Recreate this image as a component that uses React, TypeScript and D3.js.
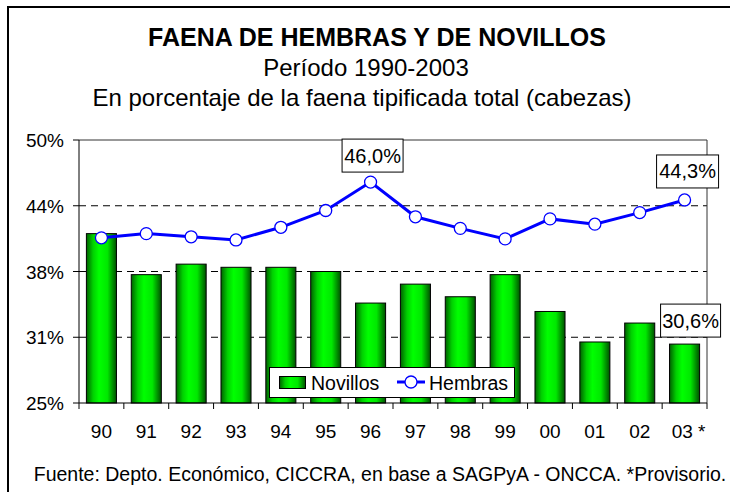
import React from "react";
import * as d3 from "d3";

const categories = ["90", "91", "92", "93", "94", "95", "96", "97", "98", "99", "00", "01", "02", "03 *"];
const novillos = [41.1, 37.2, 38.2, 37.9, 37.9, 37.5, 34.5, 36.3, 35.1, 37.2, 33.7, 30.8, 32.6, 30.6];
const hembras = [40.7, 41.1, 40.8, 40.5, 41.7, 43.3, 46.0, 42.7, 41.6, 40.6, 42.5, 42.0, 43.1, 44.3];
const yTicks = [25, 31.25, 37.5, 43.75, 50];
const yTickLabels = ["25%", "31%", "38%", "44%", "50%"];
const titleLines = ["FAENA DE HEMBRAS Y DE NOVILLOS", "Período 1990-2003", "En porcentaje de la faena tipificada total (cabezas)"];
const footer = "Fuente: Depto. Económico, CICCRA, en base a SAGPyA - ONCCA. *Provisorio.";
const seriesNames = ["Novillos", "Hembras"];

const FONT = "'Liberation Sans', Arial, sans-serif";

export default function App() {
  const left = 79, right = 707, top = 140, bottom = 403;
  const x = d3.scaleBand<string>().domain(categories).range([left, right]).paddingInner(0.33).paddingOuter(0.165);
  const y = d3.scaleLinear().domain([25, 50]).range([bottom, top]);
  const step = x.step();
  const cx = (c: string) => (x(c) as number) + x.bandwidth() / 2;
  const line = d3.line<number>().x((_, i) => cx(categories[i])).y((v) => y(v));

  const fmt = (v: number) => v.toFixed(1).replace(".", ",") + "%";
  const labelBoxes = [
    { v: hembras[6], cxv: cx(categories[6]) + 2, yb: y(hembras[6]) - 10, w: 61 },
    { v: hembras[13], cxv: cx(categories[13]) + 3, yb: y(hembras[13]) - 12, w: 62 },
    { v: novillos[13], cxv: cx(categories[13]) + 6, yb: y(novillos[13]) - 7, w: 60 },
  ];

  const xTicks = d3.range(categories.length + 1).map((i) => left + i * step);

  return (
    <svg width={730} height={492} style={{ position: "absolute", left: 0, top: 0 }} fontFamily={FONT}>
      <defs>
        <linearGradient id="barGrad" x1="0" x2="1" y1="0" y2="0">
          <stop offset="0%" stopColor="#006000" />
          <stop offset="22%" stopColor="#00d000" />
          <stop offset="42%" stopColor="#00ff00" />
          <stop offset="70%" stopColor="#00e800" />
          <stop offset="100%" stopColor="#005000" />
        </linearGradient>
      </defs>
      <rect x={0} y={0} width={730} height={492} fill="#ffffff" />
      <rect x={8} y={7} width={740} height={500} fill="none" stroke="#000" strokeWidth={2} />

      {/* titles */}
      <text x={377} y={46} textAnchor="middle" fontSize={25} fontWeight="bold">{titleLines[0]}</text>
      <text x={366} y={76} textAnchor="middle" fontSize={24}>{titleLines[1]}</text>
      <text x={362} y={106} textAnchor="middle" fontSize={24}>{titleLines[2]}</text>

      {/* gridlines */}
      {yTicks.slice(1, 4).map((t) => (
        <line key={t} x1={left} x2={right} y1={y(t)} y2={y(t)} stroke="#000" strokeDasharray="7,5" strokeWidth={1} />
      ))}
      {/* plot frame top/right */}
      <line x1={left} x2={right} y1={top} y2={top} stroke="#333" strokeWidth={1} />
      <line x1={right} x2={right} y1={top} y2={bottom} stroke="#333" strokeWidth={1} />

      {/* bars */}
      {novillos.map((v, i) => (
        <rect key={i} x={x(categories[i])} y={y(v)} width={x.bandwidth()} height={bottom - y(v)} fill="url(#barGrad)" stroke="#000" strokeWidth={1} />
      ))}

      {/* axes */}
      <line x1={left} x2={left} y1={top} y2={bottom} stroke="#000" strokeWidth={1} />
      <line x1={left} x2={right} y1={bottom} y2={bottom} stroke="#000" strokeWidth={1} />
      {yTicks.map((t, i) => (
        <g key={t}>
          <line x1={left - 6} x2={left} y1={y(t)} y2={y(t)} stroke="#000" />
          <text x={64} y={y(t) + 7} textAnchor="end" fontSize={19}>{yTickLabels[i]}</text>
        </g>
      ))}
      {xTicks.map((t, i) => (
        <line key={i} x1={t} x2={t} y1={bottom} y2={bottom + 6} stroke="#000" />
      ))}
      {categories.map((c) => (
        <text key={c} x={c.length > 2 ? cx(c) + 4 : cx(c)} y={438} textAnchor="middle" fontSize={19}>{c}</text>
      ))}

      {/* line */}
      <path d={line(hembras) as string} fill="none" stroke="#0000ff" strokeWidth={3} />
      {hembras.map((v, i) => (
        <circle key={i} cx={cx(categories[i])} cy={y(v)} r={6} fill="#fff" stroke="#0000ff" strokeWidth={1.3} />
      ))}

      {/* data labels */}
      {labelBoxes.map((b, i) => (
        <g key={i}>
          <rect x={b.cxv - b.w / 2} y={b.yb - 33} width={b.w} height={33} fill="#fff" stroke="#000" strokeWidth={1} />
          <text x={b.cxv} y={b.yb - 9.5} textAnchor="middle" fontSize={20}>{fmt(b.v)}</text>
        </g>
      ))}

      {/* legend */}
      <rect x={269.5} y={367.5} width={245} height={30} fill="#fff" stroke="#000" strokeWidth={1} />
      <rect x={279.5} y={376.5} width={26} height={12} fill="url(#barGrad)" stroke="#000" strokeWidth={1} />
      <text x={311} y={389.5} fontSize={19.5}>{seriesNames[0]}</text>
      <line x1={397} x2={425} y1={382} y2={382} stroke="#0000ff" strokeWidth={3} />
      <circle cx={411} cy={382} r={6} fill="#fff" stroke="#0000ff" strokeWidth={1.3} />
      <text x={429} y={389.5} fontSize={19.5}>{seriesNames[1]}</text>

      {/* footer */}
      <text x={380} y={481} textAnchor="middle" fontSize={19.5}>{footer}</text>
    </svg>
  );
}
